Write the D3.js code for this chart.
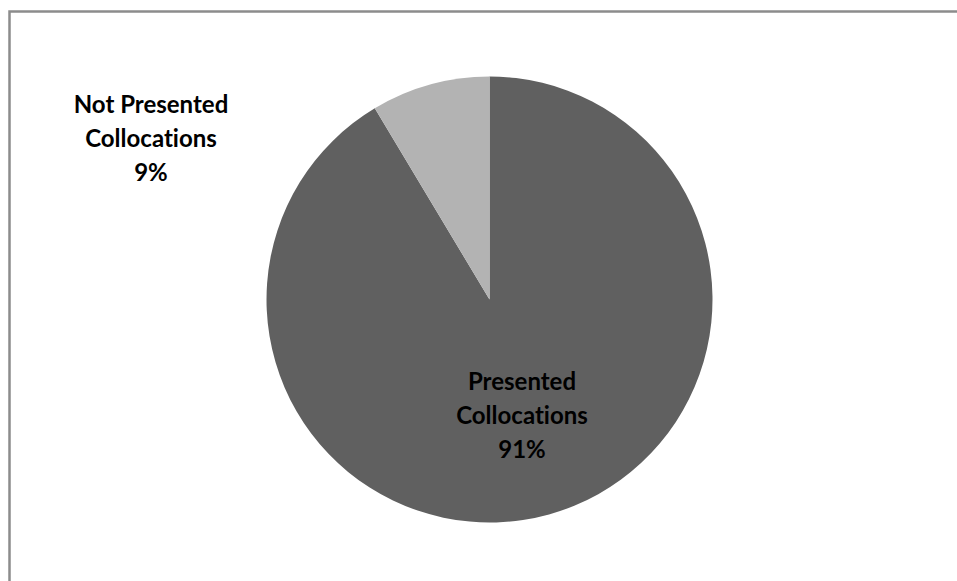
<!DOCTYPE html>
<html><head><meta charset="utf-8">
<script src="https://cdn.jsdelivr.net/npm/d3@7"></script>
<style>html,body{margin:0;padding:0;background:#fff;overflow:hidden}</style>
</head><body>
<svg id="chart" width="957" height="581"></svg>
<script>
const categories = ["Presented Collocations", "Not Presented Collocations"];
const values = [91.4, 8.6];
const colors = ["#606060", "#b3b3b3"];

const svg = d3.select("#chart");
svg.append("rect").attr("x", 9.5).attr("y", 11.5).attr("width", 960).attr("height", 600)
  .attr("fill", "#fff").attr("stroke", "#8c8c8c").attr("stroke-width", 2.5);

const cx = 489.5, cy = 299.5, r = 223;
const pie = d3.pie().sort(null).value(d => d)(values);
const arc = d3.arc().innerRadius(0).outerRadius(r);
const g = svg.append("g").attr("transform", `translate(${cx},${cy})`);
g.selectAll("path").data(pie).join("path").attr("d", arc).attr("fill", (d, i) => colors[i]);

const total = d3.sum(values);
const labelPos = [[522, 384], [151, 107]];
const lines = categories.map((c, i) => {
  const words = c.split(" ");
  const last = words.pop();
  return [words.join(" "), last, Math.round(values[i] / total * 100) + "%"];
});
lines.forEach((ls, i) => {
  const t = svg.append("text").attr("text-anchor", "middle")
    .attr("font-family", "Lato, 'Open Sans', sans-serif").attr("font-weight", "bold")
    .attr("font-size", 24).attr("fill", "#000")
    .style("font-variant-ligatures", "none").style("font-feature-settings", "'liga' 0");
  ls.forEach((l, j) => t.append("tspan").attr("x", labelPos[i][0])
    .attr("y", labelPos[i][1] + j * 34).attr("dominant-baseline", "middle").text(l));
});
</script>
</body></html>
